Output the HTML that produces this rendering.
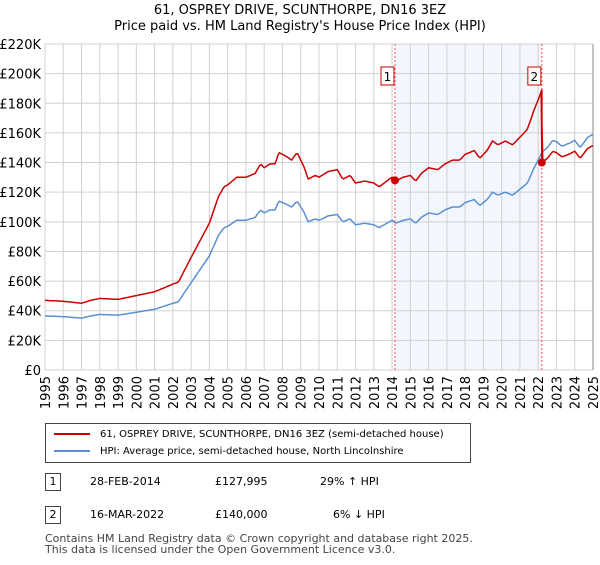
<!DOCTYPE html>
<html><head><meta charset="utf-8"><style>
body{margin:0;background:#fff;font-family:"Liberation Sans","DejaVu Sans",sans-serif}
svg text{font-family:"DejaVu Sans","Liberation Sans",sans-serif}
</style></head><body>
<svg id="c" width="600" height="560" viewBox="0 0 600 560"></svg>
<script>
const hpiYears=[1995,1996,1997,1997.5,1998,1999,2000,2001,2001.5,2002,2002.3,2003,2003.5,2004,2004.5,2004.8,2005,2005.5,2006,2006.5,2006.8,2007,2007.3,2007.6,2007.8,2008.2,2008.5,2008.8,2009.2,2009.4,2009.8,2010,2010.5,2011,2011.3,2011.7,2012,2012.5,2013,2013.3,2013.7,2014,2014.2,2014.6,2015,2015.3,2015.6,2016,2016.5,2016.9,2017.3,2017.7,2018,2018.5,2018.8,2019.2,2019.5,2019.8,2020.2,2020.6,2021,2021.4,2021.8,2022.1,2022.2,2022.5,2022.8,2023,2023.3,2023.7,2024,2024.3,2024.7,2025];
const hpiValues=[36.5,36,35,36.5,37.5,37,39,41,43,45,46,59,68,77,91,96,97,101,101,103,108,106,108,108,114,112,110,114,106,100,102,101,104,105,100,102,98,99,98,96,99,101,99,101,102,99,103,106,105,108,110,110,113,115,111,115,120,118,120,118,122,126,137,144,147,150,155,154,151,153,155,150,157,159];
const saleYears=[2014.16,2022.2];
const salePrices=[127.995,140];
const saleLabels=["1","2"];
const yTicks=[0,20,40,60,80,100,120,140,160,180,200,220];
const xTicks=[1995,1996,1997,1998,1999,2000,2001,2002,2003,2004,2005,2006,2007,2008,2009,2010,2011,2012,2013,2014,2015,2016,2017,2018,2019,2020,2021,2022,2023,2024,2025];
const L=45,R=593,T=44,B=370;
const X=t=>L+(t-1995)/30*(R-L), Y=v=>B-v/220*(B-T);
const NS="http://www.w3.org/2000/svg", svg=document.getElementById('c');
function mk(tag,a,parent){const e=document.createElementNS(NS,tag);for(const k in a)e.setAttribute(k,a[k]);(parent||svg).appendChild(e);return e;}
function hpiAt(t){for(let i=0;i<hpiYears.length-1;i++){if(t<=hpiYears[i+1]){const f=(t-hpiYears[i])/(hpiYears[i+1]-hpiYears[i]);return hpiValues[i]+f*(hpiValues[i+1]-hpiValues[i]);}}return hpiValues[hpiValues.length-1];}
let sh=mk('rect',{x:X(saleYears[0]),y:T,width:X(saleYears[1])-X(saleYears[0]),height:B-T,fill:'#eef2fc',opacity:0.7});

const g=mk('g',{});
yTicks.forEach(v=>{mk('line',{x1:L,x2:R,y1:Y(v),y2:Y(v),stroke:'#d0d0d0','stroke-width':1},g);
 const t=mk('text',{x:L-4,y:Y(v)+5,'text-anchor':'end','font-size':13,fill:'#000'});t.textContent='£'+(v===0?'0':v+'K');
 });
xTicks.forEach(v=>{mk('line',{x1:X(v),x2:X(v),y1:T,y2:B,stroke:'#d0d0d0','stroke-width':1},g);
 const t=mk('text',{transform:`translate(${X(v)+5},${B+6}) rotate(-90)`,'text-anchor':'end','font-size':13,fill:'#000'});t.textContent=v;
 });
mk('line',{x1:R,x2:R,y1:T,y2:B,stroke:'#888','stroke-width':1});
saleYears.forEach((s,i)=>{const l=mk('line',{x1:X(s),x2:X(s),y1:T,y2:B,stroke:'#e55','stroke-width':1,'stroke-dasharray':'2,2'});
 });
const r1=salePrices[0]/hpiAt(saleYears[0]), r2=salePrices[1]/hpiAt(saleYears[1]);
let pb='',pr='';
for(let t=1995;t<=2025.001;t+=1/12){const h=hpiAt(t);pb+=(pb?'L':'M')+X(t).toFixed(1)+','+Y(h).toFixed(1);
 if(t<saleYears[1]&&t+1/12>=saleYears[1]){pr+='L'+X(saleYears[1]).toFixed(1)+','+Y(hpiAt(saleYears[1])*r1).toFixed(1)+'L'+X(saleYears[1]).toFixed(1)+','+Y(salePrices[1]).toFixed(1);}
 const r=t<saleYears[1]?r1:r2;pr+=(pr?'L':'M')+X(t).toFixed(1)+','+Y(h*r).toFixed(1);}
let bl=mk('path',{d:pb,fill:'none',stroke:'#5b8fd4','stroke-width':1.5});
let rl=mk('path',{d:pr,fill:'none',stroke:'#cc0000','stroke-width':1.5});
saleYears.forEach((s,i)=>{const c=mk('circle',{cx:X(s),cy:Y(salePrices[i]),r:4,fill:'#cc0000'});
 const bx=X(s)-14;const r=mk('rect',{x:bx,y:67,width:13,height:18,fill:'#fff',stroke:'#cc0000','stroke-width':1});
 const t=mk('text',{x:bx+6.5,y:81,'text-anchor':'middle','font-size':12});t.textContent=saleLabels[i];});
</script>
<div style="position:absolute;left:0;top:0;width:600px;text-align:center;font-size:13px;line-height:16px;top:3px;font-family:'DejaVu Sans',sans-serif">61, OSPREY DRIVE, SCUNTHORPE, DN16 3EZ<br>Price paid vs. HM Land Registry's House Price Index (HPI)</div>
<div style="position:absolute;left:45px;top:423px;width:424px;height:38px;border:1px solid #444;font-size:10px;white-space:nowrap;font-family:'DejaVu Sans',sans-serif">
 <div style="position:absolute;left:8px;top:5px"><span style="display:inline-block;width:36px;height:2px;background:#cc0000;vertical-align:middle;margin-right:10px"></span>61, OSPREY DRIVE, SCUNTHORPE, DN16 3EZ (semi-detached house)</div>
 <div style="position:absolute;left:8px;top:22px"><span style="display:inline-block;width:36px;height:2px;background:#5b8fd4;vertical-align:middle;margin-right:10px"></span>HPI: Average price, semi-detached house, North Lincolnshire</div>
</div>
<div style="font-family:'DejaVu Sans',sans-serif;font-size:11px">
 <div style="position:absolute;left:45px;top:473px;width:14px;height:16px;border:1px solid #444;text-align:center;line-height:16px">1</div>
 <div style="position:absolute;left:90px;top:475px">28-FEB-2014</div>
 <div style="position:absolute;left:215px;top:475px">£127,995</div>
 <div style="position:absolute;left:320px;top:475px">29% ↑ HPI</div>
 <div style="position:absolute;left:45px;top:506px;width:14px;height:16px;border:1px solid #444;text-align:center;line-height:16px">2</div>
 <div style="position:absolute;left:90px;top:508px">16-MAR-2022</div>
 <div style="position:absolute;left:215px;top:508px">£140,000</div>
 <div style="position:absolute;left:333px;top:508px">6% ↓ HPI</div>
</div>
<div style="position:absolute;left:45px;top:533px;font-size:11px;line-height:11px;color:#444;font-family:'DejaVu Sans',sans-serif">Contains HM Land Registry data © Crown copyright and database right 2025.<br>This data is licensed under the Open Government Licence v3.0.</div>
</body></html>
